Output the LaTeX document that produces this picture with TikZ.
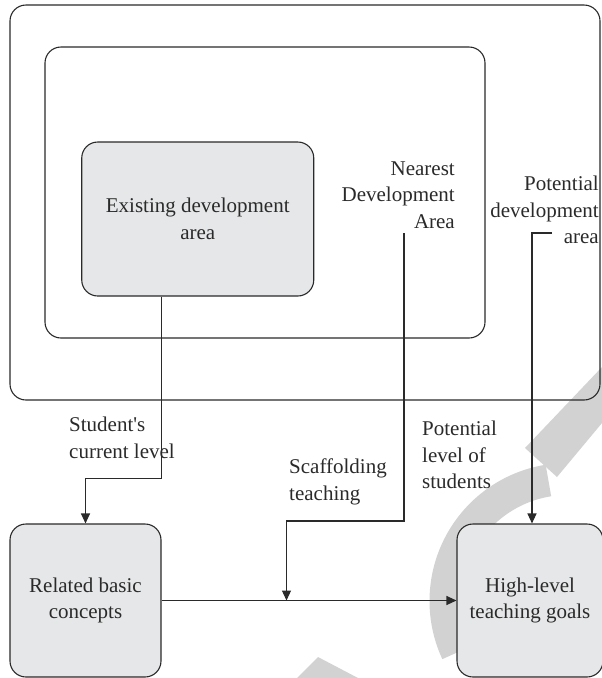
\documentclass[tikz,border=0pt]{standalone}
\usepackage{fontspec}
\setmainfont{Liberation Serif}
\usetikzlibrary{arrows.meta}
\definecolor{ink}{HTML}{2A2A2A}
\definecolor{boxfill}{HTML}{E6E7E8}
\definecolor{wmgrey}{HTML}{D2D2D2}
\begin{document}
\begin{tikzpicture}[x=1pt,y=-1pt,
  frame/.style={draw=ink, line width=1.1pt, rounded corners=16pt, inner sep=0pt},
  areabox/.style={frame, fill=boxfill, align=center, inner sep=0pt},
  lbl/.style={inner sep=0pt, text=ink, font=\fontsize{21}{26.5}\selectfont},
  conn/.style={draw=ink, line width=1.1pt, -{Triangle[length=10pt,width=9pt]}},
  link/.style={draw=ink, line width=1.1pt}]
\useasboundingbox (0,0) rectangle (602,678);

% faint background strokes
\begin{scope}
  \clip (0,0) rectangle (602,678);
  \fill[wmgrey] (525,448) -- (602,367) -- (640,367) -- (640,423) -- (602,423) -- (557,477) -- cycle;
  \draw[wmgrey, line width=32pt] (567.5,601) ++(-99:122) arc[start angle=-99, end angle=-205, radius=122];
  \fill[wmgrey] (318,657) -- (280,695) -- (380,695) -- (358,678) -- cycle;
\end{scope}

% nested areas
\node[frame, minimum width=590pt, minimum height=395pt] (outer) at (305,202.5) {};
\node[frame, minimum width=440pt, minimum height=291pt] (inner) at (265,192.5) {};
\node[areabox, minimum width=232pt, minimum height=154pt, lbl] (exist) at (197.75,219)
  {Existing development\\area};

% bottom boxes
\node[areabox, minimum width=151pt, minimum height=153pt, lbl] (rel) at (85.5,600.5)
  {Related basic\\concepts};
\node[areabox, minimum width=146pt, minimum height=153pt, lbl] (high) at (530,600.5)
  {High-level\\teaching goals};

% area labels
\node[lbl, anchor=east, align=right] (nda) at (455,195) {Nearest\\Development\\Area};
\node[lbl, anchor=east, align=right] (pda) at (599,210) {Potential\\development\\area};

% connector labels
\node[lbl, anchor=west, align=left] (cur) at (69,438) {Student\textquotesingle s\\current level};
\node[lbl, anchor=west, align=left] (scaf) at (289,482) {Scaffolding\\teaching};
\node[lbl, anchor=west, align=left] (potl) at (422,455) {Potential\\level of\\students};

% connector end points
\coordinate (ndafoot) at (404,233);
\coordinate (pdafoot) at (552,233);
\coordinate (join) at (286.5,600.5);

% connectors
\draw[conn] (exist.south -| rel.east) -- ++(0,182) -| (rel.north);
\draw[conn] (rel.east) -- (high.west);
\draw[conn] (ndafoot) -- (404,521) -| (join);
\draw[conn] (pdafoot) -| ([xshift=2pt]high.north);
\end{tikzpicture}
\end{document}
